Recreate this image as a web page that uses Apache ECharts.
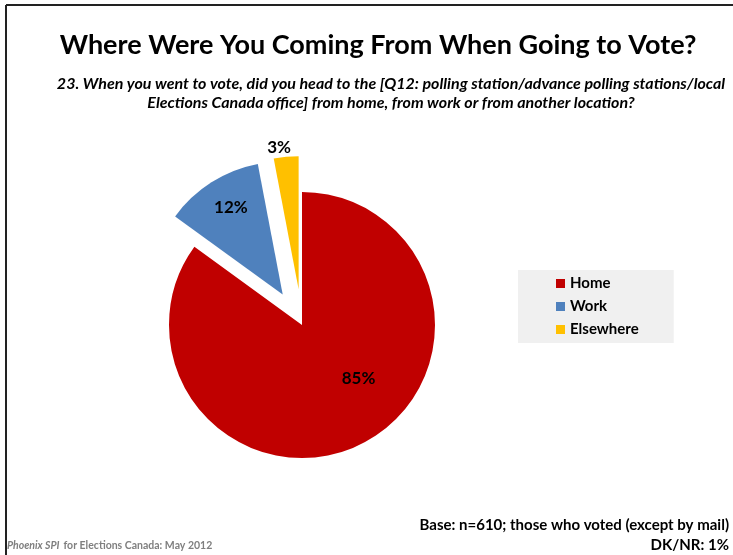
<!DOCTYPE html>
<html><head><meta charset="utf-8">
<script src="https://cdn.jsdelivr.net/npm/echarts@6/dist/echarts.min.js"></script>
<style>html,body{margin:0;padding:0;background:#fff}#c{width:733px;height:555px}</style>
</head><body><div id="c"></div>
<script>
const categories = ['Home', 'Work', 'Elsewhere'];
const values = [85, 12, 3];
const colors = ['#C00000', '#4F81BD', '#FFC000'];
const exploded = [false, true, true];
const labelOffsets = [[25, -8], [2, -22], [-7, -75]];

const FONT = 'Lato';
const labelBase = {show: true, position: 'inside', formatter: '{c}%', fontFamily: FONT, fontWeight: 'bold', fontSize: 17, color: '#000'};
const chart = echarts.init(document.getElementById('c'), null, {renderer: 'canvas'});
chart.setOption({
  backgroundColor: '#fff',
  animation: false,
  title: [
    {text: 'Where Were You Coming From When Going to Vote?', left: 373, top: 27, textAlign: 'center',
     textStyle: {fontFamily: FONT, fontWeight: 'bold', fontSize: 27, color: '#000'}},
    {text: '23. When you went to vote, did you head to the [Q12: polling station/advance polling stations/local\nElections Canada office] from home, from work or from another location?',
     left: 386, top: 69, textAlign: 'center',
     textStyle: {fontFamily: FONT, fontWeight: 'bold', fontStyle: 'italic', fontSize: 16, lineHeight: 19, color: '#000', align: 'center'}},
    {text: 'Base: n=610; those who voted (except by mail)', right: 4, top: 518, padding: 0,
     textStyle: {fontFamily: FONT, fontWeight: 'bold', fontSize: 15, color: '#000'}},
    {text: 'DK/NR: 1%', right: 4, top: 538, padding: 0,
     textStyle: {fontFamily: FONT, fontWeight: 'bold', fontSize: 15, color: '#000'}},
    {text: '{i|Phoenix SPI}{n|for Elections Canada: May 2012}', left: 7, top: 540, padding: 0,
     textStyle: {rich: {
       i: {fontFamily: FONT, fontStyle: 'italic', fontWeight: 'bold', fontSize: 10.5, color: '#7f7f7f', padding: [0, 4, 0, 0]},
       n: {fontFamily: FONT, fontWeight: 'bold', fontSize: 10.5, color: '#7f7f7f'}}}}
  ],
  legend: {
    orient: 'vertical', left: 518, top: 270,
    backgroundColor: '#F0F0F0', padding: [5, 35, 5, 38],
    icon: 'rect', itemWidth: 9, itemHeight: 9, itemGap: 6,
    textStyle: {fontFamily: FONT, fontWeight: 'bold', fontSize: 15, lineHeight: 17, color: '#000'},
    data: categories, selectedMode: false
  },
  graphic: [
    {type: 'line', shape: {x1: 6, y1: 5, x2: 733, y2: 5}, style: {stroke: '#222', lineWidth: 2}},
    {type: 'line', shape: {x1: 6, y1: 5, x2: 6, y2: 555}, style: {stroke: '#222', lineWidth: 2}}
  ],
  series: [{
    type: 'pie',
    center: [302, 325], radius: 133,
    startAngle: 90, clockwise: true,
    selectedMode: 'multiple', selectedOffset: 36,
    emphasis: {disabled: true},
    label: labelBase,
    labelLine: {show: false},
    data: categories.map((n, i) => ({
      name: n, value: values[i], selected: exploded[i],
      itemStyle: {color: colors[i]},
      label: {offset: labelOffsets[i]},
      select: {itemStyle: {color: colors[i]}, label: Object.assign({}, labelBase, {offset: labelOffsets[i]})}
    }))
  }]
});
</script></body></html>
